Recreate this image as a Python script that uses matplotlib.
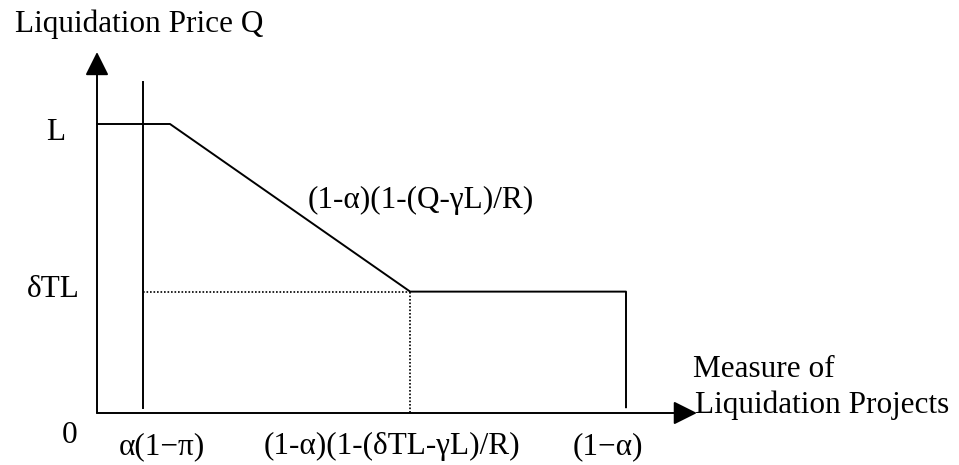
import matplotlib.pyplot as plt

plt.rcParams['font.family'] = ['Liberation Serif', 'DejaVu Serif']

# schematic values (x: share of projects, 1-alpha = 1; y: price, L = 1)
x_alpha_pi = 0.087      # alpha(1-pi)
x_flat_end = 0.138      # end of the flat part at L
x_kink = 0.592          # (1-a)(1-(dTL-gL)/R)
x_one_minus_alpha = 1.0 # (1-alpha)
y_L = 1.0
y_dTL = 0.42
x_axis_end = 1.134
y_axis_end = 1.249

x_tick_labels = ["α(1−π)", "(1-α)(1-(δTL-γL)/R)", "(1−α)"]
y_tick_labels = ["0", "δTL", "L"]

fig = plt.figure(figsize=(9.59, 4.65), dpi=100)
ax = fig.add_axes([0, 0, 1, 1])
ax.set_xlim(-97 / 529, (959 - 97) / 529)
ax.set_ylim(-(465 - 413) / 289, 413 / 289)
ax.axis("off")

lw = 1.4
fs = 22.5

# axes with arrows
arr = dict(arrowstyle="-|>,head_length=1.0,head_width=0.5", mutation_scale=14.4,
           lw=lw, color="black", shrinkA=0, shrinkB=0)
ax.annotate("", xy=(0, y_axis_end), xytext=(0, 0), arrowprops=arr)
ax.annotate("", xy=(x_axis_end, 0), xytext=(0, 0), arrowprops=arr)

# supply curve
ax.plot([0, x_flat_end, x_kink, x_one_minus_alpha, x_one_minus_alpha],
        [y_L, y_L, y_dTL, y_dTL, 0.02], color="black", lw=lw)

# vertical at alpha(1-pi)
ax.plot([x_alpha_pi, x_alpha_pi], [0.017, 1.145], color="black", lw=lw)

# dotted guides
ax.plot([x_alpha_pi, x_kink], [y_dTL, y_dTL], color="black", lw=1.2, ls=(0, (1, 1.1)))
ax.plot([x_kink, x_kink], [y_dTL, 0], color="black", lw=1.2, ls=(0, (1, 1.1)))

# tick labels
x_lab_pos = [0.123, 0.558, 0.966]
for xp, lab in zip(x_lab_pos, x_tick_labels):
    ax.text(xp, -0.142, lab, ha="center", va="baseline", fontsize=fs)
ax.text(-0.051, -0.104, y_tick_labels[0], ha="center", va="baseline", fontsize=fs)
ax.text(-0.083, 0.401, y_tick_labels[1], ha="center", va="baseline", fontsize=fs)
ax.text(-0.0775, 0.945, y_tick_labels[2], ha="center", va="baseline", fontsize=fs)

# axis titles and curve label
ax.text(-0.155, 1.318, "Liquidation Price Q", ha="left", va="baseline", fontsize=fs)
ax.text(1.127, 0.125, "Measure of", ha="left", va="baseline", fontsize=fs)
ax.text(1.130, 0.0, "Liquidation Projects", ha="left", va="baseline", fontsize=fs)
ax.text(0.399, 0.709, "(1-α)(1-(Q-γL)/R)", ha="left", va="baseline", fontsize=fs)

fig.savefig("out.png", dpi=100)
